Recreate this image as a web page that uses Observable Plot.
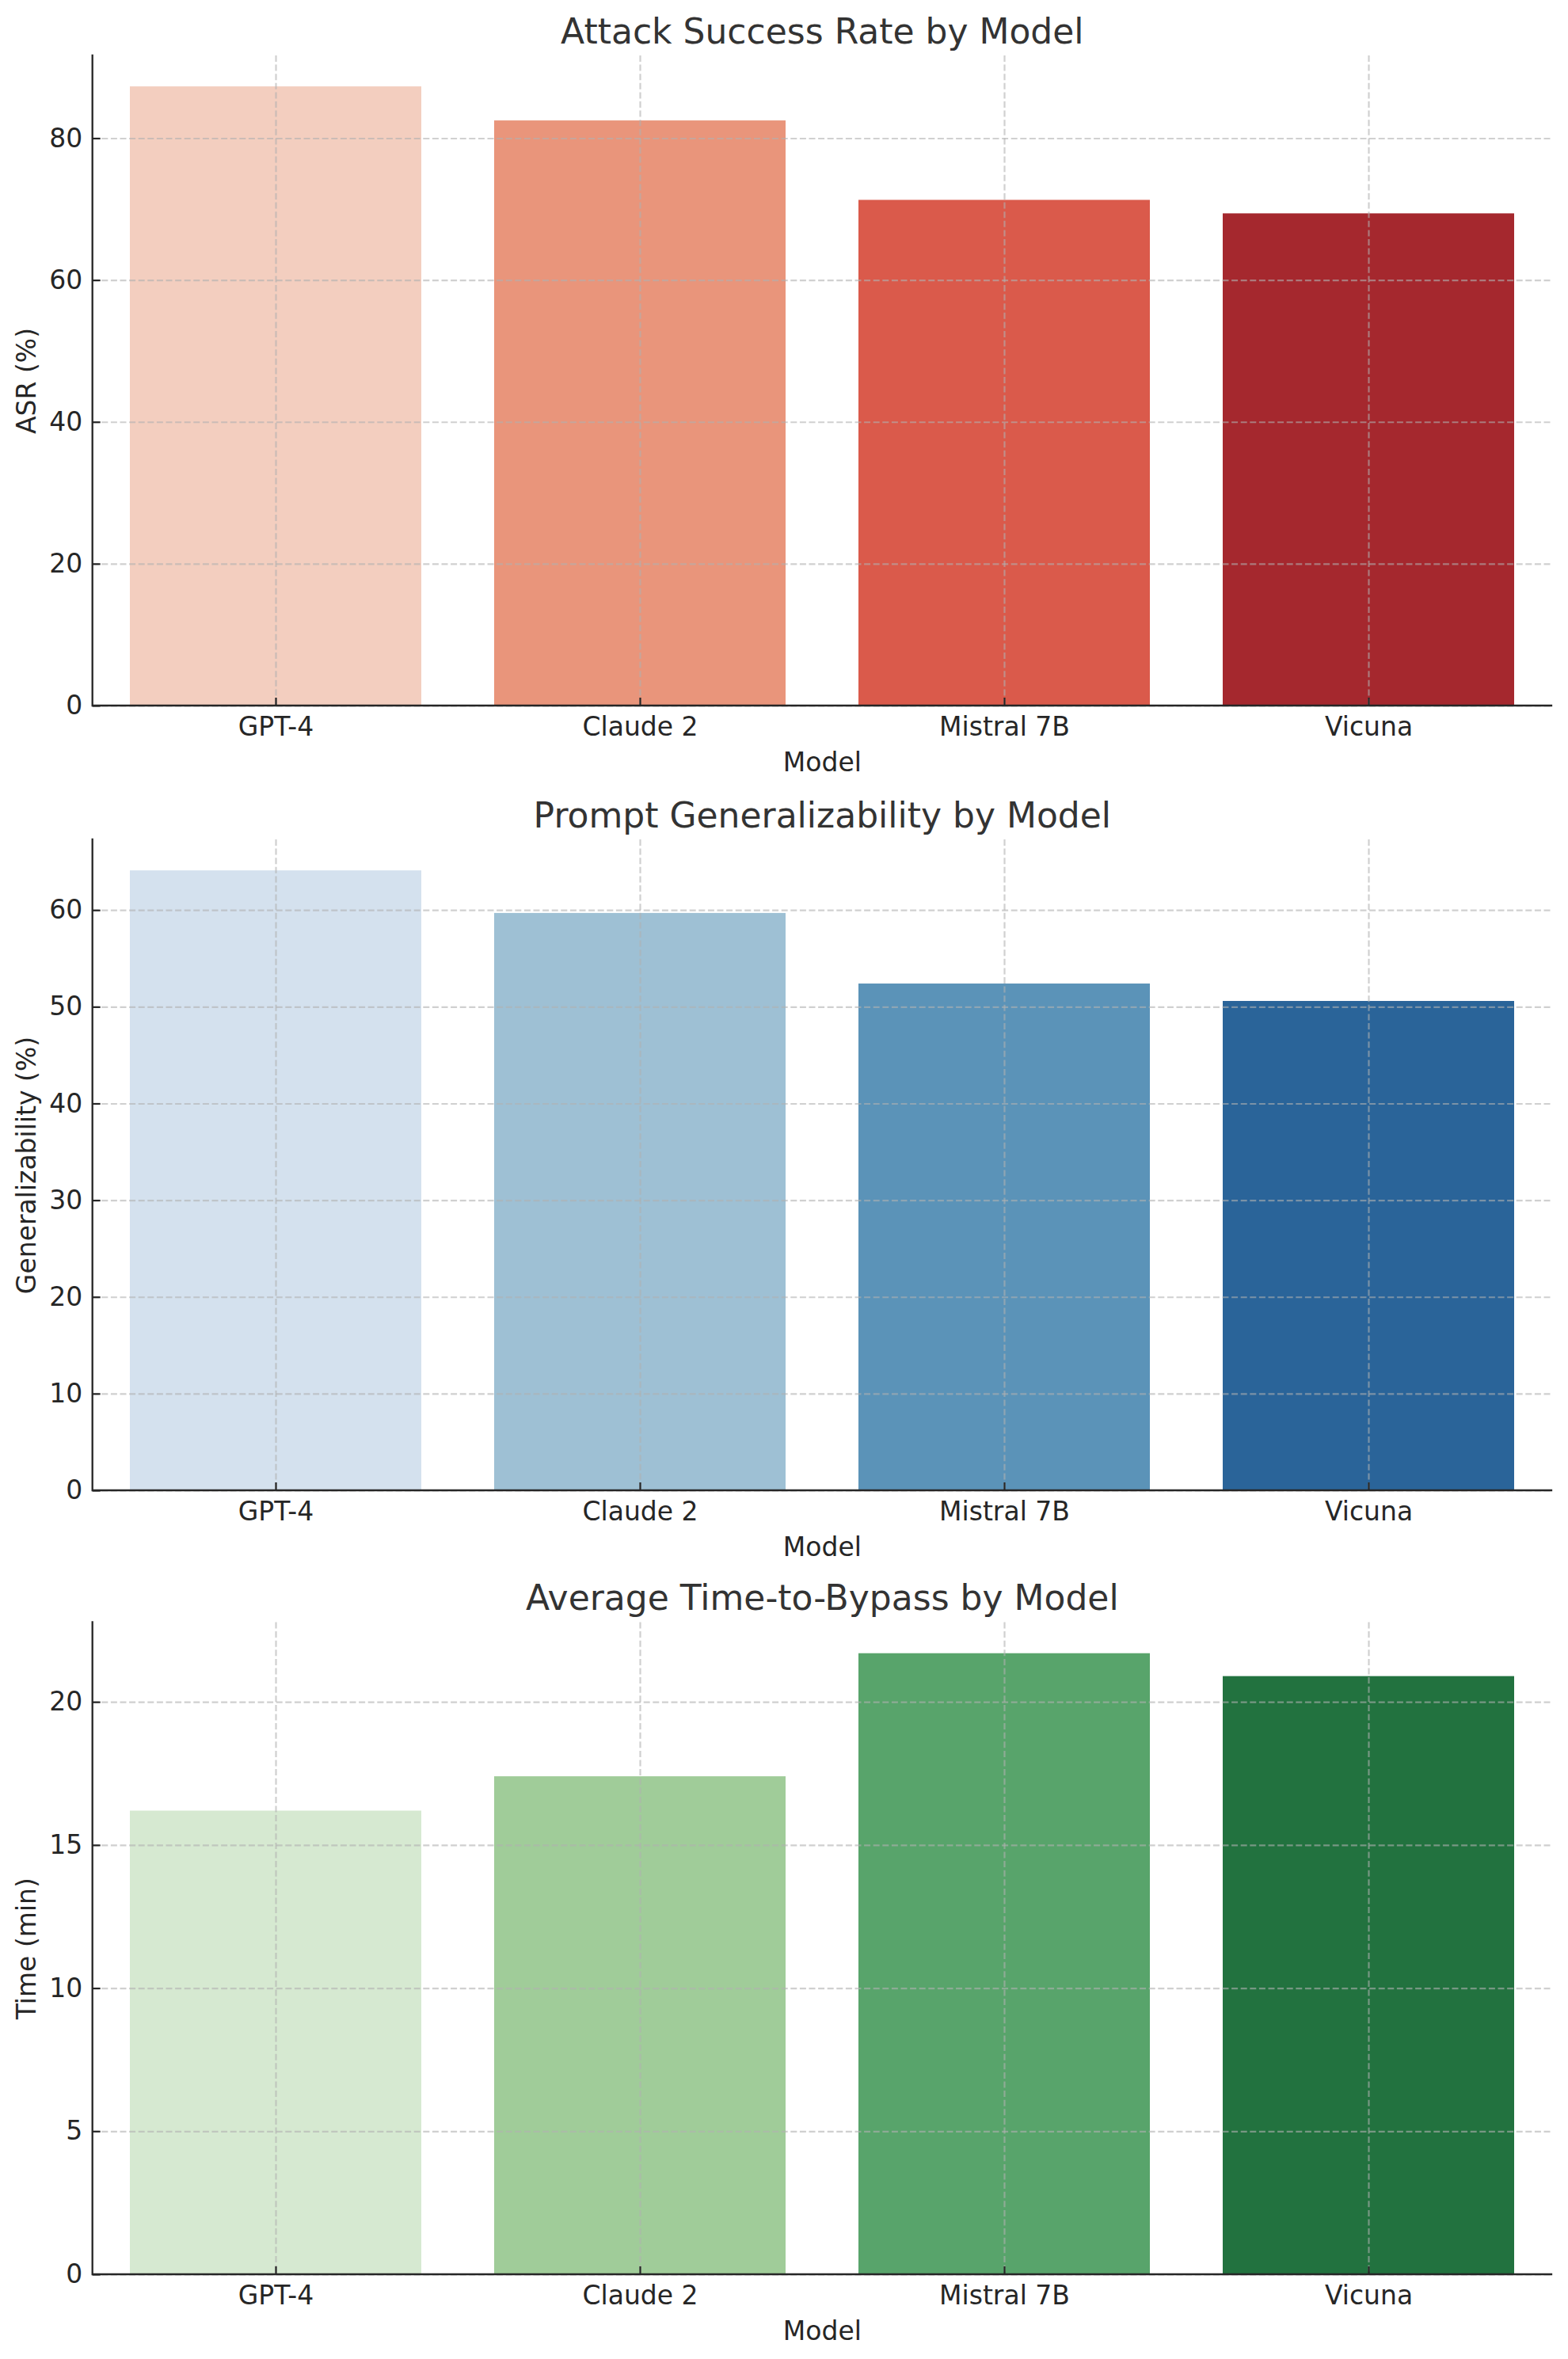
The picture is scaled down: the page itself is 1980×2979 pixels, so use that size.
<!DOCTYPE html>
<html>
<head>
<meta charset="utf-8">
<script src="https://cdn.jsdelivr.net/npm/d3@7"></script>
<script src="https://cdn.jsdelivr.net/npm/@observablehq/plot@0.6"></script>
<style>
  html, body { margin: 0; padding: 0; background: #fff; }
  #wrap { position: relative; width: 1980px; height: 2979px; background: #fff; overflow: hidden; }
  .panel { position: absolute; left: 0; }
</style>
</head>
<body>
<div id="wrap"></div>
<script>
// ---- data ----
const models = ["GPT-4", "Claude 2", "Mistral 7B", "Vicuna"];
const asr = [87.3, 82.5, 71.3, 69.4];
const generalizability = [64.1, 59.7, 52.4, 50.6];
const timeToBypass = [16.2, 17.4, 21.7, 20.9];

const redColors = ["#f3cebf", "#e9957b", "#da5a4b", "#a5282e"];
const blueColors = ["#d4e1ee", "#9ec0d4", "#5b93b8", "#2a6499"];
const greenColors = ["#d6e9d1", "#a0cc99", "#58a46b", "#22723f"];

const asrTicks = [0, 20, 40, 60, 80];
const genTicks = [0, 10, 20, 30, 40, 50, 60];
const timeTicks = [0, 5, 10, 15, 20];

const titles = ["Attack Success Rate by Model", "Prompt Generalizability by Model", "Average Time-to-Bypass by Model"];
const yLabels = ["ASR (%)", "Generalizability (%)", "Time (min)"];
const xLabel = "Model";

// ---- layout ----
const W = 1980;
const ML = 116.7, MR = 21;
const panels = [
  {top: 0,    height: 990, mt: 70,   mb: 99,  values: asr, colors: redColors, ticks: asrTicks},
  {top: 990,  height: 995, mt: 70,   mb: 103, values: generalizability, colors: blueColors, ticks: genTicks},
  {top: 1985, height: 994, mt: 63.5, mb: 107, values: timeToBypass, colors: greenColors, ticks: timeTicks}
];

const INK = "#262626";
const GRID = {stroke: "#b0b0b0", strokeOpacity: 0.6, strokeWidth: 2.2, strokeDasharray: "8,3.6"};

function spines() {
  return function(index, scales, values, dims) {
    const d = [...arguments].find(a => a && a.marginLeft !== undefined) || dims;
    const x0 = d.marginLeft, y0 = d.marginTop;
    const y1 = d.height - d.marginBottom, x1 = d.width - d.marginRight;
    return d3.create("svg:path")
      .attr("d", `M${x0},${y0}V${y1}H${x1}`)
      .attr("fill", "none")
      .attr("stroke", INK)
      .attr("stroke-width", 2.3)
      .attr("stroke-linecap", "square")
      .node();
  };
}

const wrap = document.getElementById("wrap");

panels.forEach((p, i) => {
  const data = models.map((m, j) => ({model: m, value: p.values[j]}));
  const frameW = W - ML - MR;
  const frameH = p.height - p.mt - p.mb;
  const chart = Plot.plot({
    width: W,
    height: p.height,
    marginLeft: ML,
    marginRight: MR,
    marginTop: p.mt,
    marginBottom: p.mb,
    style: {fontFamily: "'DejaVu Sans', sans-serif", fontSize: "33px", color: INK, background: "#fff", overflow: "visible"},
    x: {domain: models, paddingInner: 0.2, paddingOuter: 0.1, label: null},
    y: {domain: [0, d3.max(p.values) * 1.05], label: null},
    color: {domain: models, range: p.colors},
    marks: [
      Plot.barY(data, {x: "model", y: "value", fill: "model"}),
      Plot.ruleY(p.ticks, {y: d => d, ...GRID}),
      Plot.ruleX(models, {x: d => d, ...GRID}),
      Plot.axisY({ticks: p.ticks, tickSize: 0, tickPadding: 13, fontSize: 33, label: null, fill: INK}),
      Plot.axisX({tickSize: 0, tickPadding: 14, fontSize: 33, label: null, fill: INK}),
      Plot.ruleY(p.ticks, {y: d => d, insetRight: frameW - 10, stroke: INK, strokeWidth: 2.2}),
      Plot.ruleX(models, {x: d => d, insetTop: frameH - 10, stroke: INK, strokeWidth: 2.2}),
      spines(),
      Plot.text([titles[i]], {frameAnchor: "top", dy: -30, lineAnchor: "middle", fontSize: 44, fill: "#333"}),
      Plot.text([yLabels[i]], {frameAnchor: "left", dx: -82.7, rotate: -90, lineAnchor: "middle", textAnchor: "middle", fontSize: 33, fill: INK}),
      Plot.text([xLabel], {frameAnchor: "bottom", dy: 72, lineAnchor: "middle", fontSize: 33, fill: INK})
    ]
  });
  const div = document.createElement("div");
  div.className = "panel";
  div.style.top = p.top + "px";
  div.appendChild(chart);
  wrap.appendChild(div);
});
</script>
</body>
</html>
